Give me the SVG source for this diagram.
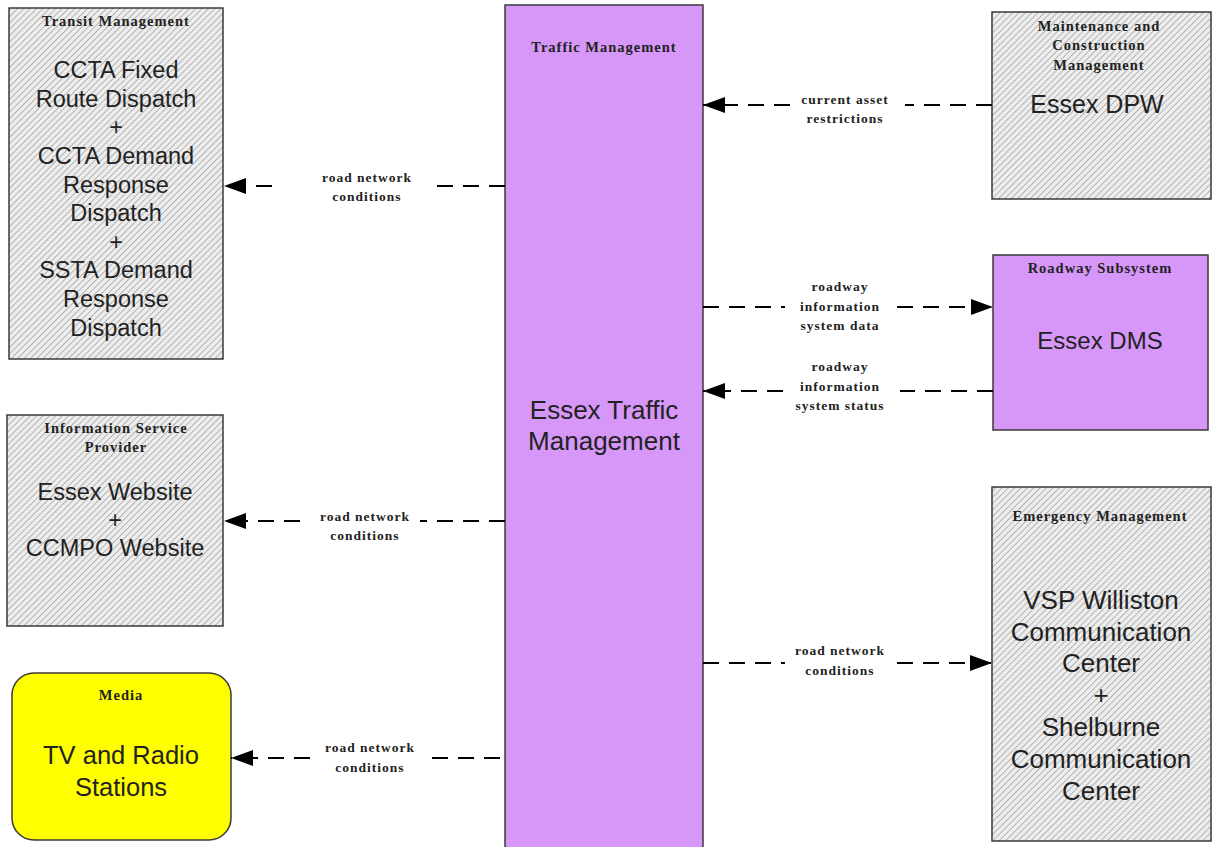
<svg xmlns="http://www.w3.org/2000/svg" width="1213" height="847" viewBox="0 0 1213 847">
<defs>
<pattern id="hatch" width="4.5" height="4.5" patternUnits="userSpaceOnUse" patternTransform="rotate(45)">
<rect width="4.5" height="4.5" fill="#ededed"/>
<line x1="0" y1="0" x2="0" y2="4.5" stroke="#a3a3a3" stroke-width="1.5"/>
</pattern>
<marker id="arr" markerUnits="userSpaceOnUse" markerWidth="23" markerHeight="16" refX="22" refY="8" orient="auto">
<path d="M0,0 L22,8 L0,16 z" fill="#000"/>
</marker>
<style>
.hb{fill:url(#hatch);stroke:#3a3a3a;stroke-width:1.5}
.pb{fill:#d697f8;stroke:#3a3a3a;stroke-width:1.5}
.yb{fill:#ffff00;stroke:#3a3a3a;stroke-width:1.5}
.t{font-family:"Liberation Serif",serif;font-weight:bold;font-size:14.5px;letter-spacing:1px;fill:#222;text-anchor:middle}
.m{font-family:"Liberation Sans",Arial,sans-serif;fill:#222;text-anchor:middle}
.l{font-family:"Liberation Serif",serif;font-weight:bold;font-size:13.5px;letter-spacing:1px;fill:#222;text-anchor:middle}
.c{stroke:#000;stroke-width:2;stroke-dasharray:16 10;fill:none}
</style>
</defs>
<rect width="1213" height="847" fill="#fff"/>

<g id="transit">
<rect class="hb" x="9" y="8" width="214" height="351"/>
<text class="t" x="116" y="26">Transit Management</text>
<text class="m" font-size="23.5" x="116" y="78">CCTA Fixed</text>
<text class="m" font-size="23.5" x="116" y="107">Route Dispatch</text>
<text class="m" font-size="23.5" x="116" y="135">+</text>
<text class="m" font-size="23.5" x="116" y="164">CCTA Demand</text>
<text class="m" font-size="23.5" x="116" y="193">Response</text>
<text class="m" font-size="23.5" x="116" y="221">Dispatch</text>
<text class="m" font-size="23.5" x="116" y="250">+</text>
<text class="m" font-size="23.5" x="116" y="278">SSTA Demand</text>
<text class="m" font-size="23.5" x="116" y="307">Response</text>
<text class="m" font-size="23.5" x="116" y="336">Dispatch</text>
</g>

<g id="traffic">
<rect class="pb" x="505" y="5" width="198" height="850"/>
<text class="t" x="604" y="52" font-size="15.5">Traffic Management</text>
<text class="m" font-size="26" x="604" y="419">Essex Traffic</text>
<text class="m" font-size="26" x="604" y="450">Management</text>
</g>

<g id="maintenance">
<rect class="hb" x="992" y="12" width="219" height="187"/>
<text class="t" x="1099" y="31">Maintenance and</text>
<text class="t" x="1099" y="50">Construction</text>
<text class="t" x="1099" y="70">Management</text>
<text class="m" font-size="25" x="1097" y="113">Essex DPW</text>
</g>

<g id="roadway">
<rect class="pb" x="993" y="255" width="215" height="175"/>
<text class="t" x="1100" y="273">Roadway Subsystem</text>
<text class="m" font-size="24" x="1100" y="349">Essex DMS</text>
</g>

<g id="isp">
<rect class="hb" x="7" y="415" width="216" height="211"/>
<text class="t" x="116" y="433">Information Service</text>
<text class="t" x="116" y="452">Provider</text>
<text class="m" font-size="23.5" x="115" y="500">Essex Website</text>
<text class="m" font-size="23.5" x="115" y="528">+</text>
<text class="m" font-size="23.5" x="115" y="556">CCMPO Website</text>
</g>

<g id="media">
<rect class="yb" x="12" y="673" width="219" height="167" rx="22" ry="22"/>
<text class="t" x="121" y="700">Media</text>
<text class="m" font-size="25.5" x="121" y="764">TV and Radio</text>
<text class="m" font-size="25.5" x="121" y="796">Stations</text>
</g>

<g id="emergency">
<rect class="hb" x="992" y="487" width="219" height="354"/>
<text class="t" x="1100" y="521">Emergency Management</text>
<text class="m" font-size="26" x="1101" y="609">VSP Williston</text>
<text class="m" font-size="26" x="1101" y="641">Communication</text>
<text class="m" font-size="26" x="1101" y="672">Center</text>
<text class="m" font-size="26" x="1101" y="704">+</text>
<text class="m" font-size="26" x="1101" y="736">Shelburne</text>
<text class="m" font-size="26" x="1101" y="768">Communication</text>
<text class="m" font-size="26" x="1101" y="800">Center</text>
</g>

<g id="connectors">
<path class="c" d="M505,186 L428,186"/>
<path class="c" d="M272,186 L224,186" marker-end="url(#arr)"/>
<path class="c" d="M992,105 L905,105"/>
<path class="c" d="M790,105 L703,105" marker-end="url(#arr)"/>
<path class="c" d="M703,307 L785,307"/>
<path class="c" d="M897,307 L993,307" marker-end="url(#arr)"/>
<path class="c" d="M993,391 L900,391"/>
<path class="c" d="M783,391 L703,391" marker-end="url(#arr)"/>
<path class="c" d="M505,521 L420,521"/>
<path class="c" d="M300,521 L224,521" marker-end="url(#arr)"/>
<path class="c" d="M703,663 L785,663"/>
<path class="c" d="M897,663 L992,663" marker-end="url(#arr)"/>
<path class="c" d="M500,758 L432,758"/>
<path class="c" d="M310,758 L231,758" marker-end="url(#arr)"/>
</g>

<g id="labels">
<text class="l" x="367" y="182">road network</text>
<text class="l" x="367" y="201">conditions</text>
<text class="l" x="845" y="104">current asset</text>
<text class="l" x="845" y="123">restrictions</text>
<text class="l" x="840" y="291">roadway</text>
<text class="l" x="840" y="311">information</text>
<text class="l" x="840" y="330">system data</text>
<text class="l" x="840" y="371">roadway</text>
<text class="l" x="840" y="391">information</text>
<text class="l" x="840" y="410">system status</text>
<text class="l" x="365" y="521">road network</text>
<text class="l" x="365" y="540">conditions</text>
<text class="l" x="840" y="655">road network</text>
<text class="l" x="840" y="675">conditions</text>
<text class="l" x="370" y="752">road network</text>
<text class="l" x="370" y="772">conditions</text>
</g>
</svg>
